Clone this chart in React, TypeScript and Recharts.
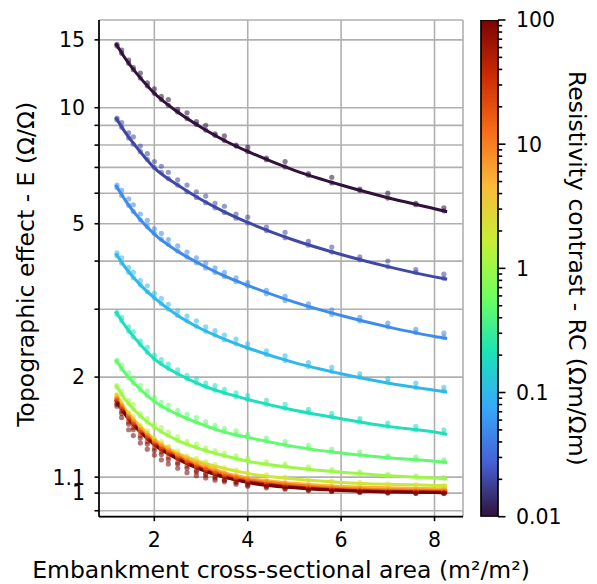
import React from "react";
import { Bar, CartesianGrid, ComposedChart, Line, Scatter, XAxis, YAxis } from "recharts";

// ---- data ----
const RC_LEVELS = [0.01, 0.02, 0.05, 0.1, 0.2, 0.5, 1, 2, 5, 10, 20, 50, 100];

// x positions of the fitted curves
const FIT_X = [1.17, 1.4, 1.7, 2, 2.5, 3, 3.5, 4, 5, 6, 7, 8, 8.27];
// x positions of the simulated points
const PTS_X = [1.2, 1.3, 1.45, 1.55, 1.7, 1.85, 2, 2.15, 2.3, 2.5, 2.7, 2.9, 3.1, 3.3, 3.5, 3.75, 4, 4.4, 4.8, 5.3, 5.8, 6.4, 7, 7.6, 8.2];

const E_FIT_0_01 = [14.7, 13.3, 11.95, 10.9, 9.75, 8.9, 8.22, 7.7, 6.88, 6.3, 5.84, 5.47, 5.37];
const E_FIT_0_02 = [9.44, 8.55, 7.68, 6.98, 6.3, 5.78, 5.37, 5.04, 4.53, 4.16, 3.87, 3.64, 3.59];
const E_FIT_0_05 = [6.3, 5.7, 5.12, 4.7, 4.24, 3.92, 3.66, 3.46, 3.13, 2.89, 2.7, 2.55, 2.52];
const E_FIT_0_1 = [4.19, 3.82, 3.47, 3.21, 2.89, 2.67, 2.51, 2.38, 2.18, 2.04, 1.93, 1.85, 1.83];
const E_FIT_0_2 = [2.96, 2.69, 2.43, 2.23, 2.04, 1.91, 1.82, 1.75, 1.64, 1.56, 1.49, 1.44, 1.42];
const E_FIT_0_5 = [2.22, 2.03, 1.86, 1.73, 1.6, 1.51, 1.44, 1.395, 1.32, 1.27, 1.235, 1.21, 1.2];
const E_FIT_1 = [1.91, 1.736, 1.585, 1.483, 1.37, 1.3, 1.25, 1.21, 1.163, 1.132, 1.11, 1.094, 1.09];
const E_FIT_2 = [1.82, 1.64, 1.49, 1.38, 1.27, 1.205, 1.158, 1.125, 1.088, 1.066, 1.054, 1.047, 1.045];
const E_FIT_5 = [1.79, 1.63, 1.48, 1.37, 1.26, 1.19, 1.13, 1.095, 1.06, 1.04, 1.032, 1.027, 1.026];
const E_FIT_10 = [1.77, 1.61, 1.46, 1.36, 1.25, 1.17, 1.12, 1.085, 1.05, 1.03, 1.02, 1.015, 1.014];
const E_FIT_20 = [1.76, 1.6, 1.45, 1.35, 1.24, 1.16, 1.11, 1.075, 1.04, 1.022, 1.013, 1.009, 1.008];
const E_FIT_50 = [1.75, 1.59, 1.44, 1.34, 1.23, 1.155, 1.1, 1.07, 1.035, 1.017, 1.009, 1.005, 1.004];
const E_FIT_100 = [1.745, 1.585, 1.44, 1.335, 1.225, 1.15, 1.1, 1.065, 1.032, 1.015, 1.007, 1.003, 1.002];

const E_PTS_0_01 = [14.6, 14.1, 13.3, 12.7, 12.3, 11.6, 11.2, 10.7, 10.5, 9.9, 9.7, 9.2, 9.0, 8.55, 8.45, 8.0, 7.9, 7.4, 7.25, 6.75, 6.6, 6.15, 6.0, 5.65, 5.5];
const E_PTS_0_01_B = [14.45, 13.85, 13.05, 12.55, 11.95, 11.4, 10.9, 10.5, 10.15, 9.75, 9.38, 9.05, 8.75, 8.48, 8.22, 7.95, 7.7, 7.33, 7.02, 6.68, 6.38, 6.1, 5.83, 5.6, 5.4];
const E_PTS_0_02 = [9.4, 9.15, 8.6, 8.4, 7.95, 7.6, 7.25, 7.05, 6.8, 6.5, 6.3, 6.05, 5.9, 5.65, 5.55, 5.3, 5.2, 4.9, 4.75, 4.5, 4.35, 4.1, 4.0, 3.8, 3.7];
const E_PTS_0_02_B = [9.3, 8.9, 8.35, 8.05, 7.7, 7.35, 7.0, 6.8, 6.55, 6.3, 6.05, 5.85, 5.67, 5.5, 5.35, 5.17, 5.02, 4.8, 4.6, 4.4, 4.22, 4.03, 3.87, 3.74, 3.61];
const E_PTS_0_05 = [6.3, 6.1, 5.8, 5.6, 5.3, 5.1, 4.85, 4.72, 4.55, 4.38, 4.22, 4.08, 3.95, 3.84, 3.74, 3.62, 3.52, 3.36, 3.24, 3.1, 2.99, 2.86, 2.76, 2.66, 2.6];
const E_PTS_0_05_B = [6.2, 5.92, 5.58, 5.38, 5.12, 4.92, 4.72, 4.56, 4.42, 4.25, 4.1, 3.96, 3.84, 3.74, 3.65, 3.54, 3.45, 3.29, 3.16, 3.03, 2.91, 2.8, 2.7, 2.61, 2.54];
const E_PTS_0_1 = [4.2, 4.08, 3.85, 3.74, 3.56, 3.45, 3.3, 3.2, 3.09, 2.97, 2.88, 2.8, 2.7, 2.64, 2.57, 2.51, 2.44, 2.34, 2.27, 2.18, 2.12, 2.04, 1.98, 1.93, 1.88];
const E_PTS_0_1_B = [4.13, 3.95, 3.74, 3.62, 3.47, 3.33, 3.21, 3.1, 3.0, 2.89, 2.8, 2.71, 2.63, 2.57, 2.5, 2.44, 2.38, 2.29, 2.21, 2.13, 2.07, 2.0, 1.94, 1.88, 1.84];
const E_PTS_0_2 = [2.95, 2.86, 2.7, 2.62, 2.48, 2.39, 2.28, 2.22, 2.16, 2.09, 2.02, 1.98, 1.93, 1.9, 1.86, 1.82, 1.79, 1.74, 1.7, 1.65, 1.61, 1.56, 1.52, 1.49, 1.46];
const E_PTS_0_2_B = [2.91, 2.8, 2.63, 2.54, 2.43, 2.32, 2.23, 2.17, 2.11, 2.04, 1.98, 1.93, 1.89, 1.85, 1.82, 1.78, 1.75, 1.7, 1.66, 1.62, 1.58, 1.53, 1.49, 1.46, 1.43];
const E_PTS_0_5 = [2.21, 2.15, 2.05, 1.99, 1.9, 1.84, 1.77, 1.72, 1.69, 1.64, 1.6, 1.57, 1.53, 1.5, 1.47, 1.45, 1.42, 1.39, 1.36, 1.33, 1.3, 1.28, 1.25, 1.24, 1.22];
const E_PTS_0_5_B = [2.19, 2.1, 1.99, 1.93, 1.85, 1.79, 1.73, 1.68, 1.645, 1.6, 1.56, 1.53, 1.5, 1.47, 1.445, 1.42, 1.4, 1.365, 1.335, 1.305, 1.28, 1.255, 1.237, 1.22, 1.206];
const E_PTS_1 = [1.9, 1.84, 1.74, 1.7, 1.61, 1.56, 1.51, 1.48, 1.44, 1.4, 1.36, 1.34, 1.31, 1.29, 1.27, 1.25, 1.23, 1.205, 1.19, 1.17, 1.15, 1.135, 1.12, 1.108, 1.098];
const E_PTS_1_B = [1.88, 1.8, 1.705, 1.655, 1.585, 1.53, 1.48, 1.445, 1.41, 1.37, 1.34, 1.315, 1.29, 1.27, 1.25, 1.23, 1.212, 1.19, 1.175, 1.155, 1.14, 1.125, 1.111, 1.1, 1.092];
const E_PTS_2 = [1.8, 1.74, 1.62, 1.58, 1.5, 1.45, 1.39, 1.36, 1.32, 1.285, 1.25, 1.23, 1.205, 1.185, 1.165, 1.148, 1.13, 1.115, 1.1, 1.086, 1.074, 1.065, 1.057, 1.052, 1.048];
const E_PTS_5 = [1.78, 1.7, 1.6, 1.55, 1.48, 1.43, 1.37, 1.34, 1.31, 1.26, 1.23, 1.2, 1.18, 1.16, 1.13, 1.115, 1.095, 1.08, 1.067, 1.055, 1.044, 1.036, 1.032, 1.028, 1.026];
const E_PTS_10 = [1.76, 1.68, 1.58, 1.53, 1.46, 1.41, 1.36, 1.32, 1.29, 1.25, 1.215, 1.185, 1.16, 1.14, 1.12, 1.1, 1.085, 1.068, 1.055, 1.042, 1.032, 1.025, 1.02, 1.016, 1.014];
const E_PTS_20 = [1.74, 1.66, 1.56, 1.51, 1.44, 1.39, 1.34, 1.3, 1.27, 1.23, 1.2, 1.17, 1.15, 1.125, 1.105, 1.09, 1.075, 1.058, 1.046, 1.034, 1.024, 1.016, 1.011, 1.009, 1.008];
const E_PTS_50 = [1.71, 1.63, 1.53, 1.48, 1.41, 1.36, 1.31, 1.28, 1.24, 1.2, 1.175, 1.145, 1.125, 1.105, 1.085, 1.072, 1.058, 1.045, 1.035, 1.024, 1.016, 1.01, 1.006, 1.003, 1.002];
const E_PTS_100 = [1.7, 1.61, 1.51, 1.46, 1.39, 1.34, 1.29, 1.26, 1.22, 1.19, 1.16, 1.135, 1.115, 1.095, 1.08, 1.065, 1.05, 1.04, 1.03, 1.02, 1.012, 1.007, 1.003, 1.0, 0.999];
const E_PTS_100_LOW = [1.68, 1.57, 1.46, 1.41, 1.35, 1.3, 1.255, 1.22, 1.19, 1.16, 1.13, 1.11, 1.095, 1.08, 1.07, 1.055, 1.042, 1.032, 1.024, 1.015, 1.009, 1.004, 1.0, 0.998, 0.997];

// axes
const X_DOMAIN = [0.815, 8.61];
const X_TICKS = [2, 4, 6, 8];
const Y_DOMAIN = [0.8685, 16.89];
const Y_TICKS = [0.9, 1, 1.1, 2, 3, 4, 5, 6, 7, 8, 9, 10, 15];
const Y_LABELLED = [1, 1.1, 2, 5, 10, 15];
const CB_DOMAIN = [0.01, 100];
const CB_TICKS = [
  0.01, 0.02, 0.03, 0.04, 0.05, 0.06, 0.07, 0.08, 0.09,
  0.1, 0.2, 0.3, 0.4, 0.5, 0.6, 0.7, 0.8, 0.9,
  1, 2, 3, 4, 5, 6, 7, 8, 9,
  10, 20, 30, 40, 50, 60, 70, 80, 90, 100,
];
const CB_LABELLED = [0.01, 0.1, 1, 10, 100];
// colorbar drawn as a single bar spanning the whole range
const CB_BAR = [{ k: "RC", top: 100 }];

// ---- styling ----
const FONT = "'DejaVu Sans', sans-serif";
const TICK_FONT = 20.5;
const LABEL_FONT = 23.5;
const SPINE = { stroke: "#000", strokeWidth: 1.7 };
const TURBO = ["#30123b", "#4662d7", "#36aaf9", "#1ae4b6", "#72fe5e", "#c7ef34", "#faba39", "#f66b19", "#cb2a04", "#7a0403"];

function hexToRgb(h: string) {
  return [1, 3, 5].map((i) => parseInt(h.slice(i, i + 2), 16));
}

function turbo(t: number) {
  const s = Math.min(Math.max(t, 0), 1) * (TURBO.length - 1);
  const i = Math.min(Math.floor(s), TURBO.length - 2);
  const f = s - i;
  const a = hexToRgb(TURBO[i]);
  const b = hexToRgb(TURBO[i + 1]);
  const c = a.map((v, k) => Math.round(v + (b[k] - v) * f));
  return `rgb(${c[0]},${c[1]},${c[2]})`;
}

const rcColor = (rc: number) => turbo((Math.log10(rc) + 2) / 4);

const FITS = [E_FIT_0_01, E_FIT_0_02, E_FIT_0_05, E_FIT_0_1, E_FIT_0_2, E_FIT_0_5, E_FIT_1, E_FIT_2, E_FIT_5, E_FIT_10, E_FIT_20, E_FIT_50, E_FIT_100];
const POINTS = [
  [E_PTS_0_01, E_PTS_0_01_B], [E_PTS_0_02, E_PTS_0_02_B], [E_PTS_0_05, E_PTS_0_05_B], [E_PTS_0_1, E_PTS_0_1_B],
  [E_PTS_0_2, E_PTS_0_2_B], [E_PTS_0_5, E_PTS_0_5_B], [E_PTS_1, E_PTS_1_B],
  [E_PTS_2], [E_PTS_5], [E_PTS_10], [E_PTS_20], [E_PTS_50], [E_PTS_100, E_PTS_100_LOW],
];

const series = RC_LEVELS.map((rc, i) => ({
  rc,
  color: rcColor(rc),
  fit: FIT_X.map((x, k) => ({ x, e: FITS[i][k] })),
  pts: POINTS[i].map((arr) => PTS_X.map((x, k) => ({ x, e: arr[k] }))),
}));

function XTick(props: any) {
  const { x, y, payload } = props;
  return (
    <g>
      <line x1={x} x2={x} y1={y} y2={y + 4.5} stroke="#000" strokeWidth={1.6} />
      <text x={x} y={y + 30} textAnchor="middle" fontSize={TICK_FONT} fontFamily={FONT} fill="#000">
        {payload.value}
      </text>
    </g>
  );
}

function YTick(props: any) {
  const { x, y, payload } = props;
  const major = Y_LABELLED.includes(payload.value);
  return (
    <g>
      <line x1={x - 4.5} x2={x} y1={y} y2={y} stroke="#000" strokeWidth={1.6} />
      {major && (
        <text x={x - 14} y={y} dy="0.36em" textAnchor="end" fontSize={TICK_FONT} fontFamily={FONT} fill="#000">
          {String(payload.value)}
        </text>
      )}
    </g>
  );
}

function CbTick(props: any) {
  const { x, y, payload } = props;
  const major = CB_LABELLED.includes(payload.value);
  return (
    <g>
      <line x1={x} x2={x + (major ? 7.5 : 4.2)} y1={y} y2={y} stroke="#000" strokeWidth={1.6} />
      {major && (
        <text x={x + 18} y={y} dy="0.36em" textAnchor="start" fontSize={TICK_FONT} fontFamily={FONT} fill="#000">
          {String(payload.value)}
        </text>
      )}
    </g>
  );
}

export default function App() {
  return (
    <div style={{ position: "absolute", left: 0, top: 0, width: 597, height: 584, background: "#fff", fontFamily: FONT }}>
      <div style={{ position: "absolute", left: 0, top: 0 }}>
        <ComposedChart width={597} height={584} margin={{ top: 20, right: 134, bottom: 27.3, left: 49 }}>
          <CartesianGrid stroke="#b0b0b0" strokeWidth={1.6} />
          <XAxis
            type="number"
            dataKey="x"
            domain={X_DOMAIN}
            ticks={X_TICKS}
            interval={0}
            allowDataOverflow
            height={40}
            tickSize={0}
            tickMargin={0}
            axisLine={SPINE}
            tickLine={false}
            tick={<XTick />}
            label={{
              content: (p: any) => (
                <text
                  x={p.viewBox.x + p.viewBox.width / 2}
                  y={p.viewBox.y + 61}
                  textAnchor="middle"
                  fontSize={LABEL_FONT}
                  fontFamily={FONT}
                  fill="#000"
                >
                  Embankment cross-sectional area (m²/m²)
                </text>
              ),
            }}
          />
          <XAxis
            xAxisId="top"
            orientation="top"
            type="number"
            domain={X_DOMAIN}
            allowDataOverflow
            height={0}
            tick={false}
            tickLine={false}
            axisLine={SPINE}
          />
          <YAxis
            type="number"
            scale="log"
            domain={Y_DOMAIN}
            ticks={Y_TICKS}
            interval={0}
            allowDataOverflow
            width={50}
            tickSize={0}
            tickMargin={0}
            axisLine={SPINE}
            tickLine={false}
            tick={<YTick />}
            label={{
              content: (p: any) => {
                const cx = 26;
                const cy = p.viewBox.y + p.viewBox.height / 2 - 4;
                return (
                  <text
                    x={cx}
                    y={cy}
                    transform={`rotate(-90, ${cx}, ${cy})`}
                    textAnchor="middle"
                    dominantBaseline="central"
                    fontSize={LABEL_FONT}
                    fontFamily={FONT}
                    fill="#000"
                  >
                    Topographic effect - E (Ω/Ω)
                  </text>
                );
              },
            }}
          />
          <YAxis
            yAxisId="right"
            orientation="right"
            type="number"
            domain={[0, 1]}
            width={0}
            tick={false}
            tickLine={false}
            axisLine={SPINE}
          />
          {series.flatMap((s) => [
            ...s.pts.map((rows, j) => (
              <Scatter
                key={`pts-${s.rc}-${j}`}
                data={rows}
                dataKey="e"
                isAnimationActive={false}
                shape={(p: any) => <circle cx={p.cx} cy={p.cy} r={2.6} fill={s.color} fillOpacity={0.55} />}
              />
            )),
            <Line
              key={`fit-${s.rc}`}
              data={s.fit}
              dataKey="e"
              type="monotone"
              stroke={s.color}
              strokeWidth={3}
              dot={false}
              activeDot={false}
              isAnimationActive={false}
            />,
          ])}
        </ComposedChart>
      </div>
      <div style={{ position: "absolute", left: 0, top: 0 }}>
        <ComposedChart
          width={597}
          height={584}
          data={CB_BAR}
          margin={{ top: 20, right: 39, bottom: 67.3, left: 481 }}
          barCategoryGap={0}
          barGap={0}
        >
          <defs>
            <linearGradient id="turboGrad" x1="0" y1="1" x2="0" y2="0">
              {TURBO.map((c, i) => (
                <stop key={c} offset={`${(i / (TURBO.length - 1)) * 100}%`} stopColor={c} />
              ))}
            </linearGradient>
          </defs>
          <XAxis type="category" dataKey="k" hide />
          <YAxis
            type="number"
            scale="log"
            orientation="right"
            domain={CB_DOMAIN}
            ticks={CB_TICKS}
            interval={0}
            allowDataOverflow
            width={60}
            tickSize={0}
            tickMargin={0}
            axisLine={false}
            tickLine={false}
            tick={<CbTick />}
            label={{
              content: (p: any) => {
                const cx = p.viewBox.x + 78.7;
                const cy = p.viewBox.y + p.viewBox.height / 2;
                return (
                  <text
                    x={cx}
                    y={cy}
                    transform={`rotate(90, ${cx}, ${cy})`}
                    textAnchor="middle"
                    dominantBaseline="central"
                    fontSize={LABEL_FONT}
                    fontFamily={FONT}
                    fill="#000"
                  >
                    Resistivity contrast - RC (Ωm/Ωm)
                  </text>
                );
              },
            }}
          />
          <Bar dataKey="top" fill="url(#turboGrad)" stroke="#000" strokeWidth={1.7} isAnimationActive={false} />
        </ComposedChart>
      </div>
    </div>
  );
}
